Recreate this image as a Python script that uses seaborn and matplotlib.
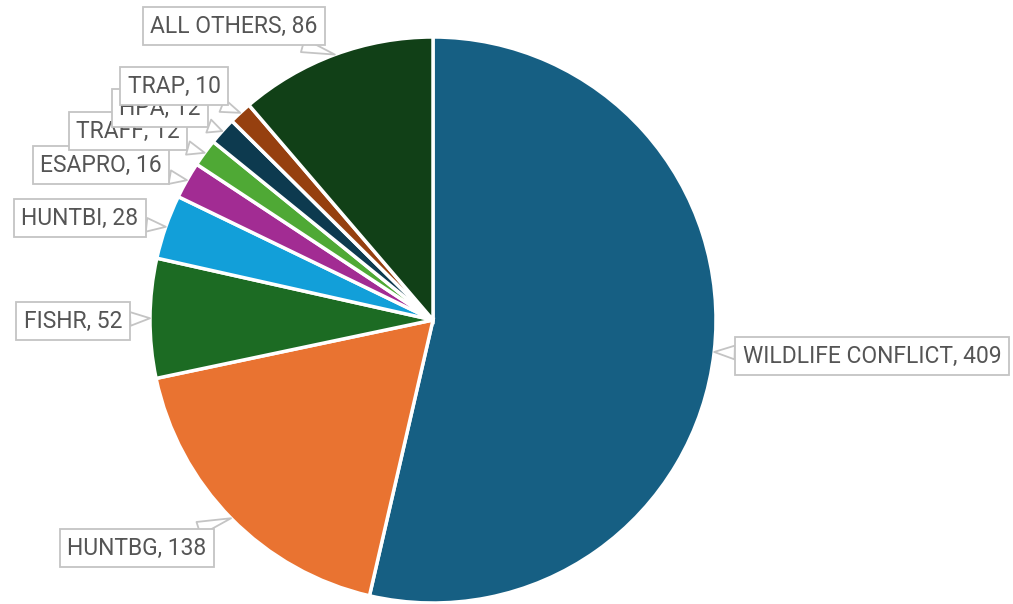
import matplotlib
matplotlib.use("Agg")
import matplotlib.pyplot as plt
import seaborn as sns
import numpy as np

sns.set_style("white")
plt.rcParams["font.family"] = ["Roboto", "DejaVu Sans"]

categories = ["WILDLIFE CONFLICT", "HUNTBG", "FISHR", "HUNTBI", "ESAPRO",
              "TRAFF", "HPA", "TRAP", "ALL OTHERS"]
counts = [409, 138, 52, 28, 16, 12, 12, 10, 86]
colors = ["#165F83", "#E97331", "#1C6B23", "#129FD9", "#A22C93",
          "#4FA935", "#0D3A4F", "#96400F", "#114017"]

# label box centres (pixels in the 1013x604 canvas)
label_px = [(872, 356), (137, 548), (73, 321), (80, 218), (101, 165),
            (128, 131), (160, 108), (174, 86), (234, 26)]

W, H = 1013, 604
cx, cy, R = 433, 320, 283

fig = plt.figure(figsize=(W / 100, H / 100), dpi=100)
ax = fig.add_axes([(cx - R) / W, (H - cy - R) / H, 2 * R / W, 2 * R / H])

wedges, _ = ax.pie(counts, colors=colors, startangle=90, counterclock=False,
                   radius=1, wedgeprops=dict(edgecolor="white", linewidth=2.5))
ax.set_xlim(-1, 1)
ax.set_ylim(-1, 1)
ax.set_aspect("equal")
ax.axis("off")

for cat, val, (px, py), w in zip(categories, counts, label_px, wedges):
    mid = np.deg2rad((w.theta1 + w.theta2) / 2)
    tip = (np.cos(mid), np.sin(mid))
    lx = (px - cx) / R
    ly = (cy - py) / R
    ax.annotate(f"{cat}, {val}", xy=tip, xytext=(lx, ly),
                ha="center", va="center", fontsize=16.5, color="#555555",
                annotation_clip=False,
                bbox=dict(boxstyle="square,pad=0.32", fc="white",
                          ec="#c4c4c4", lw=1.3),
                arrowprops=dict(arrowstyle="wedge,tail_width=0.6,shrink_factor=0.5",
                                fc="white", ec="#c4c4c4", lw=1.3,
                                shrinkA=0, shrinkB=0))

fig.savefig("out.png", dpi=100)
